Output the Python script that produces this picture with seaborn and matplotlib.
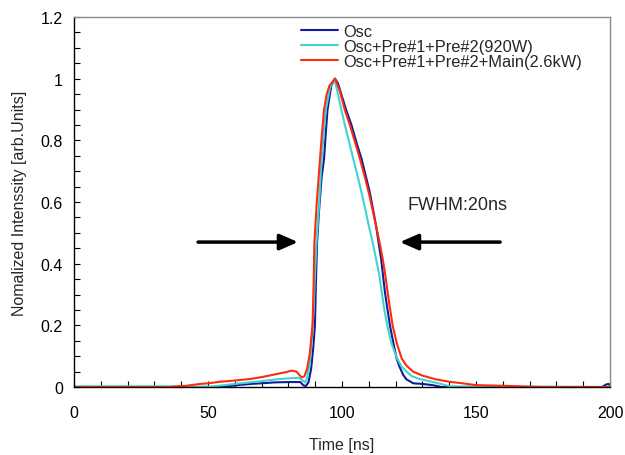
import numpy as np
import pandas as pd
import matplotlib
matplotlib.use("Agg")
import matplotlib.pyplot as plt
import seaborn as sns
from matplotlib.ticker import MultipleLocator, FormatStrFormatter

# ---- data ----
osc_t = [0, 55, 58, 62, 66, 70, 75, 80, 84.5, 85.5, 86.5, 87.5, 88.5, 89.3, 89.9, 90.3, 90.7,
         91.5, 92.4, 93.3, 94, 94.6, 96, 97.4, 98.5, 99.5, 101.5, 103.6, 105.5, 107.3, 109,
         110.4, 111.6, 112.7, 114.6, 116, 117, 117.9, 119, 120.4, 121.5, 122.8, 124, 126.6,
         130, 133, 135, 137, 197, 198.5, 199.5, 200]
osc_v = [0, 0, 0.003, 0.007, 0.010, 0.012, 0.015, 0.016, 0.016, 0.006, 0.003, 0.015, 0.06,
         0.13, 0.2, 0.35, 0.47, 0.58, 0.68, 0.74, 0.83, 0.9, 0.977, 1.0, 0.985, 0.956, 0.9,
         0.848, 0.79, 0.74, 0.68, 0.63, 0.575, 0.523, 0.415, 0.309, 0.25, 0.199, 0.15, 0.092,
         0.065, 0.04, 0.025, 0.012, 0.01, 0.007, 0.004, 0, 0, 0.008, 0.01, 0.005]

pre_t = [0, 40, 45, 52, 56, 60, 65.7, 70, 75.6, 80, 84, 85.5, 86.3, 87, 88, 88.8, 89.4, 90,
         90.5, 91.5, 92.4, 93.2, 94, 95.5, 97.2, 98.3, 99.5, 101.1, 102.5, 104.2, 105.8,
         107.3, 108.6, 110, 111.4, 112.7, 114, 114.8, 115.8, 116.9, 118.5, 120.6, 122.3,
         124.1, 126, 129, 132, 136, 139, 141, 200]
pre_v = [0.002, 0.002, 0.001, 0.002, 0.006, 0.010, 0.015, 0.019, 0.025, 0.028, 0.030, 0.02,
         0.015, 0.03, 0.08, 0.16, 0.25, 0.38, 0.47, 0.6, 0.74, 0.83, 0.9, 0.97, 1.0, 0.956,
         0.91, 0.848, 0.8, 0.74, 0.685, 0.63, 0.58, 0.523, 0.47, 0.415, 0.36, 0.309, 0.25,
         0.199, 0.14, 0.092, 0.065, 0.05, 0.035, 0.026, 0.02, 0.012, 0.005, 0.002, 0.0]

main_t = [0, 36, 38, 42, 47, 50, 54.5, 60, 65.7, 70, 75.6, 79, 81.2, 83, 84, 85, 86, 87, 88,
          89, 89.4, 89.7, 90.6, 91.8, 92.5, 93.3, 94.3, 95.3, 97.4, 98.3, 99.3, 101, 103,
          105, 106.7, 108.4, 110, 111.4, 112.7, 114, 115.2, 116.2, 117, 118, 118.9, 120.5,
          122.3, 124, 126.5, 130, 135, 140, 145, 150, 160, 170, 175, 200]
main_v = [0, 0, 0.002, 0.004, 0.01, 0.012, 0.017, 0.021, 0.026, 0.032, 0.042, 0.048, 0.053,
          0.05, 0.04, 0.031, 0.035, 0.06, 0.11, 0.2, 0.33, 0.47, 0.6, 0.74, 0.82, 0.9, 0.95,
          0.977, 1.0, 0.98, 0.956, 0.9, 0.848, 0.79, 0.74, 0.685, 0.63, 0.575, 0.523, 0.47,
          0.415, 0.36, 0.309, 0.25, 0.199, 0.14, 0.092, 0.07, 0.05, 0.037, 0.025, 0.017,
          0.012, 0.006, 0.004, 0.001, 0, 0]

labels = ["Osc", "Osc+Pre#1+Pre#2(920W)", "Osc+Pre#1+Pre#2+Main(2.6kW)"]
colors = ["#0d1f96", "#3fd3d3", "#ff2a10"]

x_ticks = [0, 50, 100, 150, 200]
y_ticks = [0, 0.2, 0.4, 0.6, 0.8, 1.0, 1.2]

df = pd.concat([
    pd.DataFrame({"Time": osc_t, "Intensity": osc_v, "Series": labels[0]}),
    pd.DataFrame({"Time": pre_t, "Intensity": pre_v, "Series": labels[1]}),
    pd.DataFrame({"Time": main_t, "Intensity": main_v, "Series": labels[2]}),
], ignore_index=True)

FS = 11.5
sns.set_style("white")
plt.rcParams["font.family"] = ["Liberation Sans", "DejaVu Sans"]
plt.rcParams["font.size"] = FS

fig = plt.figure(figsize=(6.25, 4.56), dpi=100)
ax = fig.add_axes([74 / 625, 1 - 388 / 456, 536 / 625, 370 / 456])

sns.lineplot(data=df, x="Time", y="Intensity", hue="Series", hue_order=labels,
             palette=dict(zip(labels, colors)), linewidth=1.5, sort=False,
             estimator=None, ax=ax)

ax.set_xlim(0, 200)
ax.set_ylim(0, 1.2)
ax.set_xticks(x_ticks)
ax.set_yticks(y_ticks)
ax.yaxis.set_major_formatter(FormatStrFormatter("%g"))
ax.xaxis.set_minor_locator(MultipleLocator(10))
ax.yaxis.set_minor_locator(MultipleLocator(0.05))
ax.tick_params(axis="both", which="both", direction="in", length=4, width=0.8,
               colors="black", labelsize=FS, top=False, right=False, bottom=True, left=True)
ax.tick_params(axis="x", which="major", pad=13)
ax.tick_params(axis="y", which="major", pad=8)

for s in ["left", "bottom"]:
    ax.spines[s].set_color("black")
    ax.spines[s].set_linewidth(1.0)
for s in ["top", "right"]:
    ax.spines[s].set_color("#8c8c8c")
    ax.spines[s].set_linewidth(1.0)

ax.set_xlabel("Time [ns]", fontsize=FS, labelpad=12)
ax.set_ylabel("Nomalized Intenssity [arb.Units]", fontsize=FS, labelpad=10)

leg = ax.legend(loc="upper left", bbox_to_anchor=(0.423, 0.982), frameon=False,
                handlelength=2.3, handletextpad=0.3, labelspacing=0.0,
                borderpad=0, borderaxespad=0, fontsize=11.8)

arrow_kw = dict(arrowstyle="-|>,head_length=0.55,head_width=0.24", lw=2.5,
                color="black", mutation_scale=20, shrinkA=0, shrinkB=0)
ax.annotate("", xy=(83.6, 0.47), xytext=(46.3, 0.47), arrowprops=arrow_kw)
ax.annotate("", xy=(121.6, 0.47), xytext=(159, 0.47), arrowprops=arrow_kw)
ax.text(124.4, 0.592, "FWHM:20ns", fontsize=13, ha="left", va="center")

fig.savefig("out.png", dpi=100)
